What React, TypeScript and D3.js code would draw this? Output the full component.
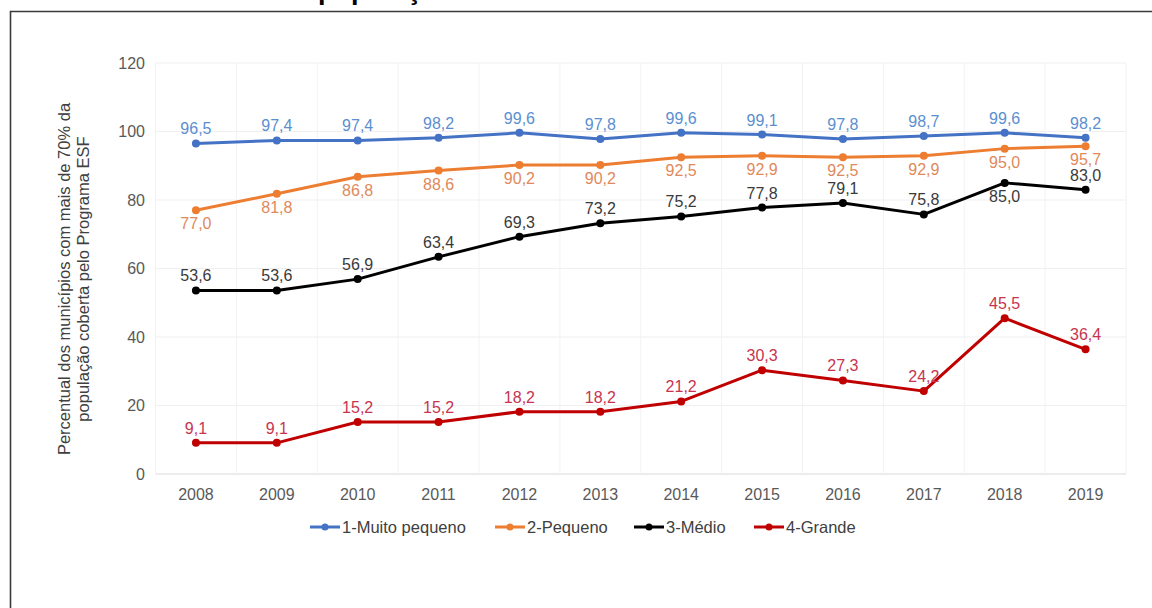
import React from "react";
import * as d3 from "d3";

const years = ["2008","2009","2010","2011","2012","2013","2014","2015","2016","2017","2018","2019"];
const muitoPequeno = [96.5, 97.4, 97.4, 98.2, 99.6, 97.8, 99.6, 99.1, 97.8, 98.7, 99.6, 98.2];
const pequeno = [77.0, 81.8, 86.8, 88.6, 90.2, 90.2, 92.5, 92.9, 92.5, 92.9, 95.0, 95.7];
const medio = [53.6, 53.6, 56.9, 63.4, 69.3, 73.2, 75.2, 77.8, 79.1, 75.8, 85.0, 83.0];
const grande = [9.1, 9.1, 15.2, 15.2, 18.2, 18.2, 21.2, 30.3, 27.3, 24.2, 45.5, 36.4];
const yTicks = [0, 20, 40, 60, 80, 100, 120];
const seriesNames = ["1-Muito pequeno", "2-Pequeno", "3-Médio", "4-Grande"];
// label placement: 1 = above, -1 = below
const medioPlacement = [1, 1, 1, 1, 1, 1, 1, 1, 1, 1, -1, 1];

const W = 1152, H = 608;
const left = 155.5, right = 1126, top = 63, bottom = 474;
const font = "'Liberation Sans', Arial, sans-serif";
const fs = 16;

export default function App() {
  const x = d3.scaleBand<string>().domain(years).range([left, right]);
  const cx = (i: number) => (x(years[i]) as number) + x.bandwidth() / 2;
  const y = d3.scaleLinear().domain([0, 120]).range([bottom, top]);
  const line = d3.line<number>().x((_, i) => cx(i)).y((d) => y(d));
  const fmt = (v: number) => v.toFixed(1).replace(".", ",");

  const series = [
    { name: seriesNames[0], data: muitoPequeno, color: "#4472C4", label: "#5b8fd0", place: muitoPequeno.map(() => 1) },
    { name: seriesNames[1], data: pequeno, color: "#ED7D31", label: "#e0895c", place: pequeno.map(() => -1) },
    { name: seriesNames[2], data: medio, color: "#000000", label: "#3a3a3a", place: medioPlacement },
    { name: seriesNames[3], data: grande, color: "#C00000", label: "#c8344f", place: grande.map(() => 1) },
  ];

  const legendX = [310, 495, 634, 754];

  return (
    <svg width={W} height={H} style={{ position: "absolute", left: 0, top: 0, background: "#fff" }} fontFamily={font}>
      <rect x={0} y={0} width={W} height={H} fill="#ffffff" />
      {/* frame */}
      <path d={`M10.5,${H} V11.5 H${W}`} fill="none" stroke="#3a3a3a" strokeWidth={1.6} />
      <text x={318} y={-1} fontSize={27} fontWeight="bold" fill="#000">população</text>

      {/* horizontal grid */}
      {yTicks.map((t) => (
        <line key={"h" + t} x1={left} x2={right} y1={y(t)} y2={y(t)} stroke={t === 0 ? "#d9d9d9" : "#efefef"} strokeWidth={1} />
      ))}
      {/* vertical grid */}
      {years.map((yr) => (x(yr) as number)).concat([right]).map((gx, i) => (
        <line key={"v" + i} x1={gx} x2={gx} y1={top} y2={bottom} stroke="#f2f2f2" strokeWidth={1} />
      ))}

      {/* y tick labels */}
      {yTicks.map((t) => (
        <text key={"yt" + t} x={145} y={y(t)} dy="0.35em" textAnchor="end" fontSize={fs} fill="#595959">{t}</text>
      ))}
      {/* x tick labels */}
      {years.map((yr, i) => (
        <text key={"xt" + yr} x={cx(i)} y={500} textAnchor="middle" fontSize={fs} fill="#595959">{yr}</text>
      ))}

      {/* y axis title */}
      <g transform={`translate(70,279) rotate(-90)`}>
        <text x={0} y={0} textAnchor="middle" fontSize={16.5} fill="#404040">Percentual dos municípios com mais de 70% da</text>
        <text x={0} y={19} textAnchor="middle" fontSize={16.5} fill="#404040">população coberta pelo Programa ESF</text>
      </g>

      {/* series */}
      {series.map((s) => (
        <g key={s.name}>
          <path d={line(s.data) as string} fill="none" stroke={s.color} strokeWidth={3} strokeLinejoin="round" />
          {s.data.map((v, i) => (
            <circle key={i} cx={cx(i)} cy={y(v)} r={4} fill={s.color} />
          ))}
          {s.data.map((v, i) => (
            <text key={"l" + i} x={cx(i)} y={s.place[i] > 0 ? y(v) - 9 : y(v) + 19} textAnchor="middle" fontSize={fs} fill={s.label}>{fmt(v)}</text>
          ))}
        </g>
      ))}

      {/* legend */}
      {series.map((s, i) => (
        <g key={"lg" + i} transform={`translate(${legendX[i]},527)`}>
          <line x1={0} x2={30} y1={0} y2={0} stroke={s.color} strokeWidth={3} />
          <circle cx={15} cy={0} r={3.5} fill={s.color} />
          <text x={32} y={0} dy="0.35em" fontSize={16.5} fill="#404040">{s.name}</text>
        </g>
      ))}
    </svg>
  );
}
